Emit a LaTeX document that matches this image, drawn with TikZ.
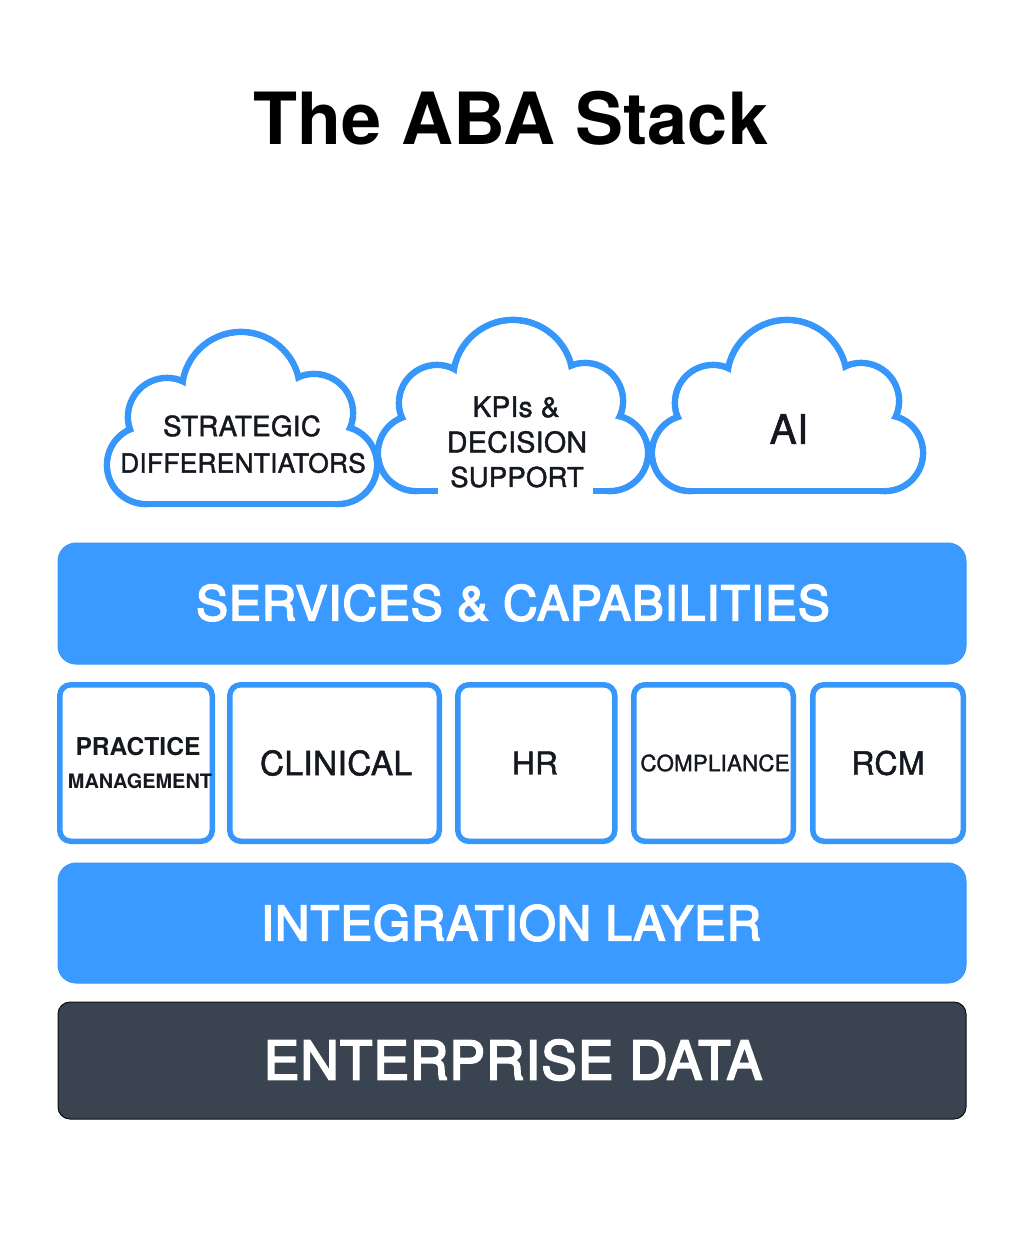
\documentclass[tikz,border=0pt]{standalone}
\usepackage{fontspec}
\setmainfont{TeX Gyre Heros}
\newfontfamily\lightmed[FakeBold=1.5,LetterSpace=1]{TeX Gyre Heros}
\newfontfamily\heavymed[FakeBold=3.5,LetterSpace=2]{TeX Gyre Heros}
\definecolor{blueA}{HTML}{3B9AFF}
\definecolor{blueB}{HTML}{3696FA}
\definecolor{darkA}{HTML}{3A4350}
\definecolor{inkA}{HTML}{15191F}
\newcommand{\fs}[1]{\fontsize{#1}{#1}\selectfont}
% lobes: list of x/y/r ; then rectangle x1,y1,x2,y2 (y2 = bottom line)
\newcommand{\cloudlobes}[5]{%
  \foreach \cx/\cy/\cr in {#1} {\draw[cloudedge] (\cx,\cy) circle[radius=\cr];}
  \draw[cloudedge] (#2,#5) -- (#4,#5);
  \foreach \cx/\cy/\cr in {#1} {\fill[cloudfill] (\cx,\cy) circle[radius=\cr-3.3];}
  \fill[cloudfill] (#2,#3) rectangle (#4,#5-3.3);
}
\tikzset{
  x=1pt,y=-1pt,
  cloudedge/.style={draw=blueB,line width=6.6pt},
  cloudfill/.style={fill=white},
  barbase/.style={rounded corners=18pt,line width=1pt},
  barblue/.style={barbase,fill=blueA,draw=blueB},
  bardark/.style={rounded corners=12pt,line width=1pt,fill=darkA,draw=black!80!darkA},
  tile/.style={draw=blueB,line width=5.5pt,fill=white,rounded corners=11pt},
  txt/.style={inner sep=0pt,text=inkA,align=center},
  wtxt/.style={inner sep=0pt,text=white},
}
\begin{document}
\begin{tikzpicture}
\useasboundingbox (0,0) rectangle (1024,1244);
\fill[white] (0,0) rectangle (1024,1244);
\node[inner sep=0pt,text=black,font=\fs{72}\bfseries] (title) at (511,118) {The ABA Stack};
% cloud 2
\cloudlobes{416/453/38,610/453/38,437/403/38,585/401/38,513/380/60}{416}{380}{610}{491}
\fill[cloudfill] (438,484) rectangle (593,498);
% cloud 3
\cloudlobes{690/453/38,885/453/38,713/403/38,861/401/38,787/380/60}{690}{380}{885}{491}
% cloud 1
\cloudlobes{146/465/39,338/465/39,167/417/39,314/413/39,241/391/59}{146}{391}{338}{504}
\node[txt,font=\fs{27.8}\lightmed] (s1) at (242,426) {STRATEGIC};
\node[txt,font=\fs{26.3}\lightmed] (s2) at (243,463) {DIFFERENTIATORS};
\node[txt,font=\fs{28.1}\lightmed] (k1) at (516,407) {KPIs \&};
\node[txt,font=\fs{28.6}\lightmed] (k2) at (517,442) {DECISION};
\node[txt,font=\fs{27.4}\lightmed] (k3) at (517,477) {SUPPORT};
\node[txt,font=\fs{40.5}\lightmed] (ai) at (789,429) {AI};
% bars
\draw[barblue] (58,543) rectangle (966,664);
\node[wtxt,font=\fs{47.8}\heavymed] (sc) at (513,603) {SERVICES \& CAPABILITIES};
\draw[barblue] (58,863) rectangle (966,983);
\node[wtxt,font=\fs{47.6}\heavymed] (il) at (511,923) {INTEGRATION LAYER};
\draw[bardark] (58,1002) rectangle (966,1119);
\node[wtxt,font=\fs{53.2}\heavymed] (ed) at (513,1060) {ENTERPRISE DATA};
% tiles
\draw[tile] (59.75,684.75) rectangle (212.25,841.25);
\draw[tile] (229.75,684.75) rectangle (439.25,841.25);
\draw[tile] (457.75,684.75) rectangle (614.75,841.25);
\draw[tile] (633.75,684.75) rectangle (793.25,841.25);
\draw[tile] (812.75,684.75) rectangle (963.25,841.25);
\node[txt,font=\fs{24.6}\bfseries] (p1) at (138,747) {PRACTICE};
\node[txt,font=\fs{19.9}\bfseries] (p2) at (140,781) {MANAGEMENT};
\node[txt,font=\fs{33.5}\lightmed] (c) at (336,763) {CLINICAL};
\node[txt,font=\fs{31.5}\lightmed] (h) at (535,763) {HR};
\node[txt,font=\fs{22.3}\lightmed] (cp) at (715,763) {COMPLIANCE};
\node[txt,font=\fs{32.2}\lightmed] (r) at (888,763) {RCM};
\end{tikzpicture}
\end{document}
